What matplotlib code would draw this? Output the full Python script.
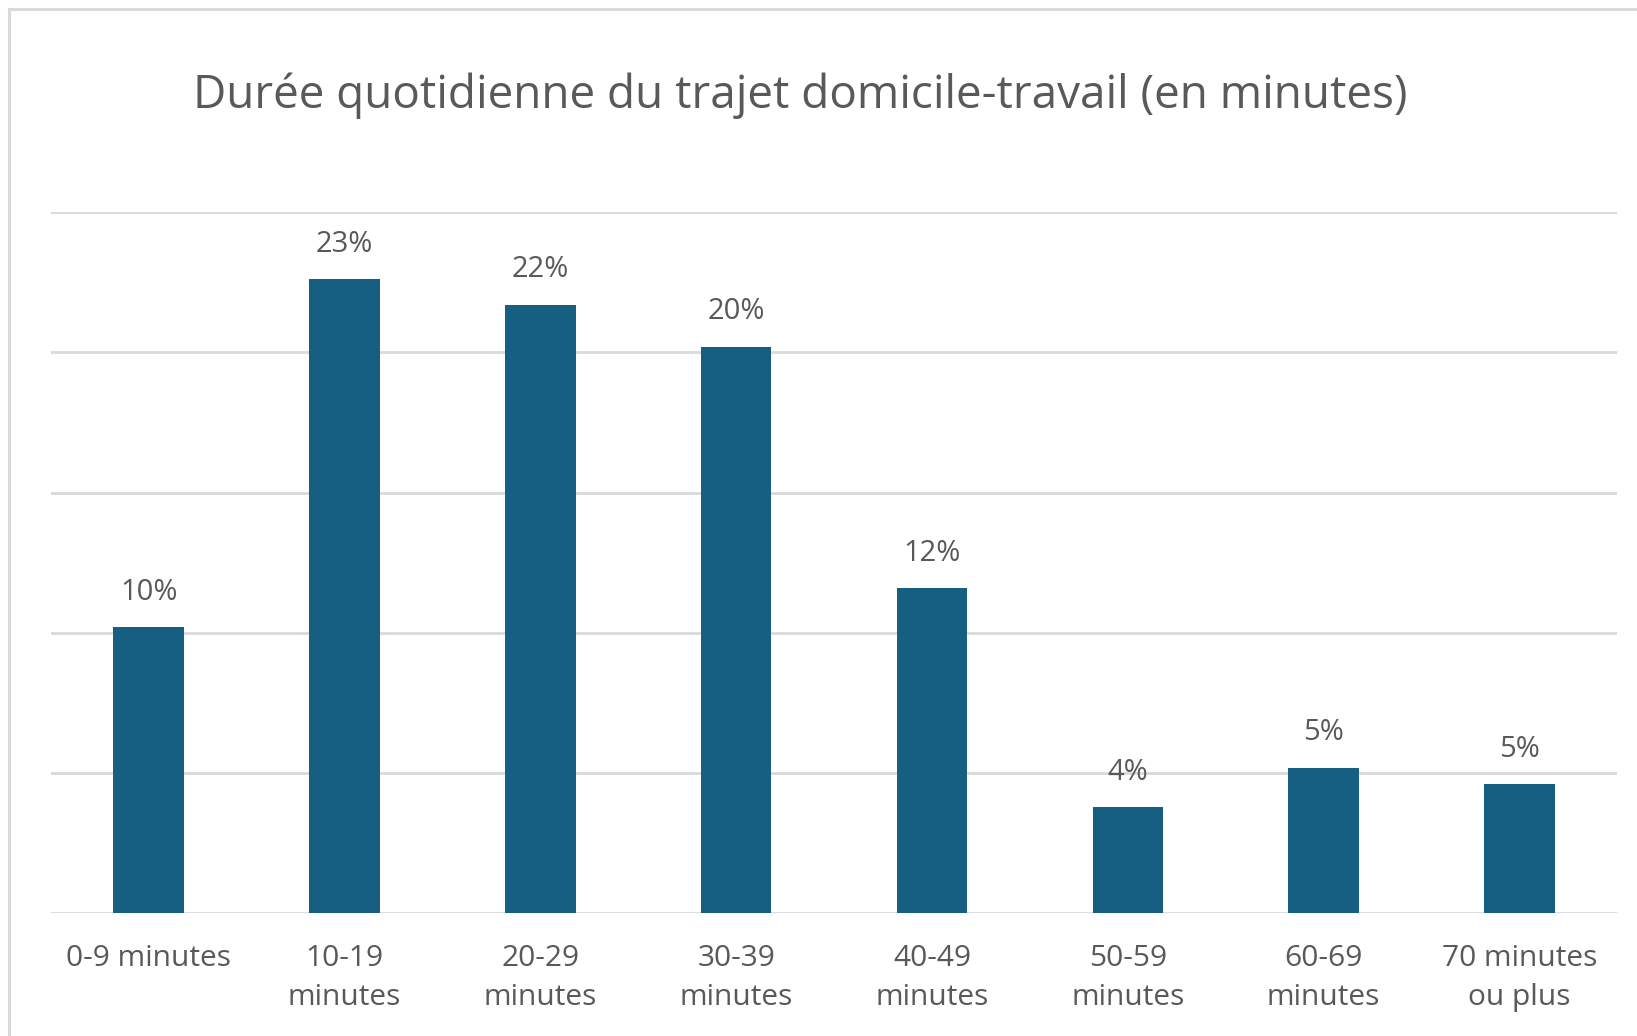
import matplotlib.pyplot as plt
from matplotlib.patches import Rectangle

categories = ["0-9 minutes", "10-19\nminutes", "20-29\nminutes", "30-39\nminutes",
              "40-49\nminutes", "50-59\nminutes", "60-69\nminutes", "70 minutes\nou plus"]
values = [10.2, 22.6, 21.7, 20.2, 11.6, 3.8, 5.2, 4.6]
labels = ["10%", "23%", "22%", "20%", "12%", "4%", "5%", "5%"]
title = "Durée quotidienne du trajet domicile-travail (en minutes)"

bar_color = "#175F82"
text_color = "#595959"
grid_color = "#D9D9D9"

plt.rcParams['font.family'] = ['Open Sans', 'DejaVu Sans']

fig = plt.figure(figsize=(16.37, 10.36), dpi=100)
# chart frame (runs off the right and bottom edges in the reference)
fig.patches.append(Rectangle((9 / 1637, -0.1), 1.2, 1 - 9 / 1036 + 0.1,
                             transform=fig.transFigure, fill=False,
                             edgecolor=grid_color, linewidth=2.2))

ax = fig.add_axes([0.031, 0.1183, 0.957, 0.6771])
x = range(len(categories))
ax.bar(x, values, width=0.36, color=bar_color, zorder=3)
ax.set_ylim(0, 25)
ax.set_xlim(-0.5, len(categories) - 0.5)
ax.set_yticks([0, 5, 10, 15, 20, 25])
ax.yaxis.grid(True, color=grid_color, linewidth=2)
ax.set_yticklabels([])
ax.tick_params(axis='y', length=0)
ax.set_xticks(list(x))
ax.set_xticklabels(categories, fontsize=21.5, color=text_color, linespacing=1.45)
ax.tick_params(axis='x', length=0, pad=22)
for s in ax.spines.values():
    s.set_visible(False)

for i, (v, lab) in enumerate(zip(values, labels)):
    ax.annotate(lab, (i, v), xytext=(0, 25), textcoords='offset points',
                ha='center', va='center', fontsize=21, color=text_color)

fig.text(0.489, 1 - 96 / 1036, title, ha='center', va='center',
         fontsize=33, color=text_color)

fig.savefig("out.png", dpi=100)
